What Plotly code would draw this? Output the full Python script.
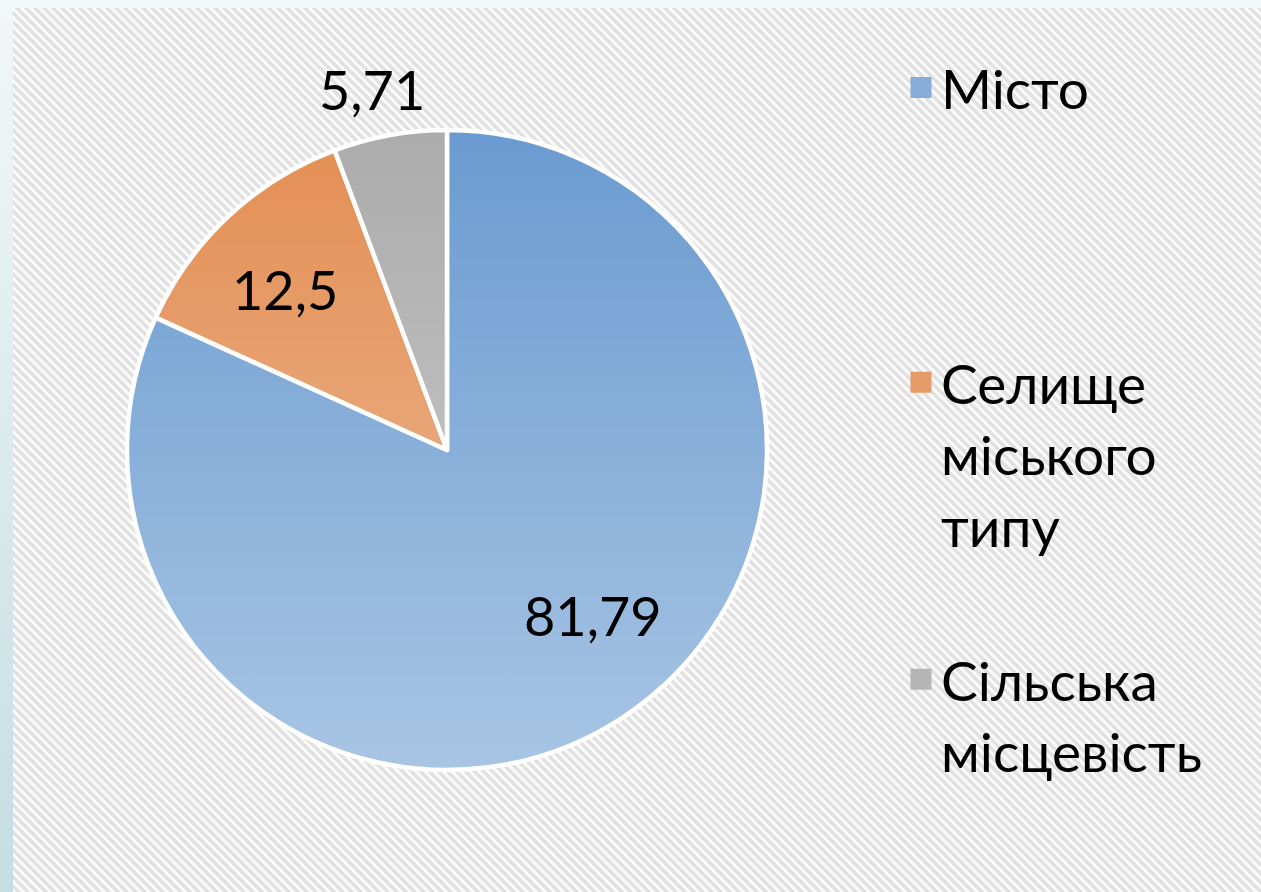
import base64
import math
import plotly.graph_objects as go

# ---- data ----
labels = ["Місто", "Селище<br>міського<br>типу", "Сільська<br>місцевість"]
values = [81.79, 12.5, 5.71]
slice_colors = ["#6a9bd0", "#e38e53", "#acacac"]
legend_colors = ["#86acd9", "#e69a68", "#b5b5b5"]

# label placement style (radial factor of the pie radius, angle nudge in degrees)
label_radius = [0.69, 0.712, 1.15]
label_nudge = [-8.7, -2.3, -1.5]

W, H = 1261, 892
dom_x = [127 / W, 767 / W]
dom_y = [1 - 770 / H, 1 - 130 / H]

# pie geometry in pixels (margins are zero, so paper == figure)
cx = (dom_x[0] + dom_x[1]) / 2 * W
cy = (1 - (dom_y[0] + dom_y[1]) / 2) * H
r = min((dom_x[1] - dom_x[0]) * W, (dom_y[1] - dom_y[0]) * H) / 2

# background: hatched panel with a light-blue strip on the left
bg_svg = f"""<svg xmlns='http://www.w3.org/2000/svg' width='{W}' height='{H}'>
<defs>
<linearGradient id='g' x1='0' y1='0' x2='0' y2='1'>
<stop offset='0' stop-color='#f2f7f8'/><stop offset='1' stop-color='#c5dde3'/>
</linearGradient>
<pattern id='p' width='9' height='9' patternUnits='userSpaceOnUse'>
<rect width='9' height='9' fill='#fbfbfb'/>
<path d='M-3,6 L3,12 M0,0 L9,9 M6,-3 L12,3' stroke='#e1e1e1' stroke-width='3.4'/>
</pattern>
</defs>
<rect width='{W}' height='{H}' fill='url(#g)'/>
<rect x='13' y='8' width='{W-13}' height='{H-8}' fill='url(#p)'/>
</svg>"""

# light vertical sheen over the pie (darker at top, lighter at bottom)
sheen_svg = f"""<svg xmlns='http://www.w3.org/2000/svg' width='{W}' height='{H}'>
<defs>
<linearGradient id='s' gradientUnits='userSpaceOnUse' x1='0' y1='{cy-r}' x2='0' y2='{cy+r}'>
<stop offset='0' stop-color='#ffffff' stop-opacity='0'/>
<stop offset='1' stop-color='#ffffff' stop-opacity='0.42'/>
</linearGradient>
</defs>
<circle cx='{cx}' cy='{cy}' r='{r}' fill='url(#s)'/>
</svg>"""


def uri(s):
    return "data:image/svg+xml;base64," + base64.b64encode(s.encode()).decode()


fig = go.Figure()
fig.add_trace(go.Pie(
    labels=labels,
    values=values,
    sort=False,
    direction="clockwise",
    rotation=0,
    marker=dict(colors=slice_colors, line=dict(color="white", width=4.5)),
    textinfo="none",
    domain=dict(x=dom_x, y=dom_y),
    showlegend=False,
    hoverinfo="label+value",
))

# value labels, placed from the cumulative angles of the slices
total = sum(values)
annotations = []
cum = 0.0
for v, rf, nd in zip(values, label_radius, label_nudge):
    mid = (cum + v / 2) / total * 360 + nd
    cum += v
    px = cx + rf * r * math.sin(math.radians(mid))
    py = cy - rf * r * math.cos(math.radians(mid))
    txt = f"{v:g}".replace(".", ",")
    annotations.append(dict(
        x=px / W, y=1 - py / H, xref="paper", yref="paper",
        text=txt, showarrow=False, xanchor="center", yanchor="middle",
        font=dict(family="Lato", size=54, color="black"),
    ))

legend_names = ["legend", "legend2", "legend3"]
legend_y = [0.9494, 0.6188, 0.286]
for lab, col, ln in zip(labels, legend_colors, legend_names):
    fig.add_trace(go.Scatter(
        x=[None], y=[None], mode="markers", name=lab,
        marker=dict(symbol="square", size=16, color=col,
                    line=dict(width=6, color=col)),
        legend=ln, showlegend=True, hoverinfo="skip",
    ))

leg_common = dict(
    x=0.7145, xanchor="left", yanchor="top",
    bgcolor="rgba(0,0,0,0)", borderwidth=0,
    font=dict(family="Lato", size=55, color="black"),
    valign="top", itemclick=False, itemdoubleclick=False,
)
layout_legends = {ln: dict(leg_common, y=ly) for ln, ly in zip(legend_names, legend_y)}

fig.update_layout(
    width=W, height=H,
    margin=dict(l=0, r=0, t=0, b=0),
    paper_bgcolor="white",
    plot_bgcolor="rgba(0,0,0,0)",
    separators=", ",
    font=dict(family="Lato"),
    xaxis=dict(visible=False),
    yaxis=dict(visible=False),
    annotations=annotations,
    images=[
        dict(source=uri(bg_svg), xref="paper", yref="paper", x=0, y=1,
             sizex=1, sizey=1, xanchor="left", yanchor="top",
             sizing="stretch", layer="below"),
        dict(source=uri(sheen_svg), xref="paper", yref="paper", x=0, y=1,
             sizex=1, sizey=1, xanchor="left", yanchor="top",
             sizing="stretch", layer="above"),
    ],
    **layout_legends,
)

fig.write_html("out.html", config={"displayModeBar": False},
               post_script="document.body.style.margin='0';")
